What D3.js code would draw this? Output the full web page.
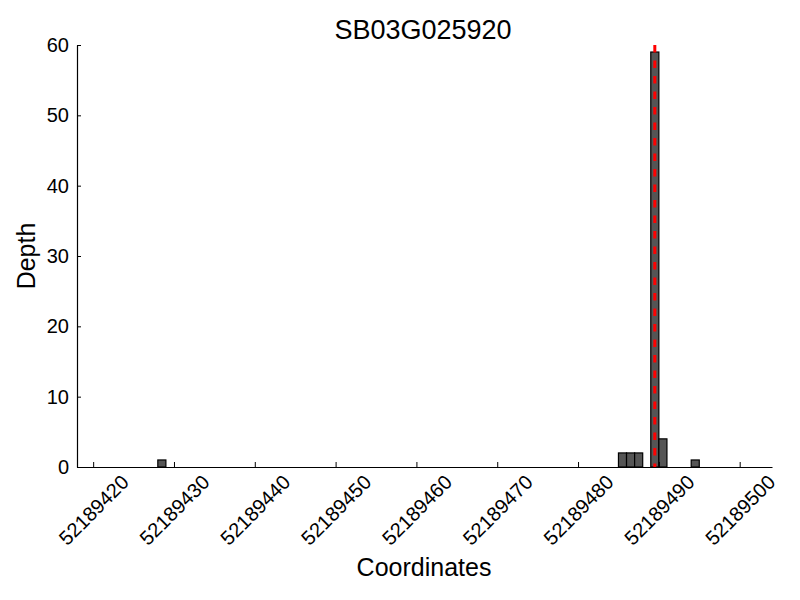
<!DOCTYPE html>
<html>
<head>
<meta charset="utf-8">
<script src="https://cdn.jsdelivr.net/npm/d3@7"></script>
<style>
  body { margin: 0; background: #fff; }
  text { font-family: "Liberation Sans", Arial, sans-serif; fill: #000; }
</style>
</head>
<body>
<svg id="chart" width="800" height="600"></svg>
<script>
var positions = [52189428, 52189485, 52189486, 52189487, 52189489, 52189490, 52189494];
var depths = [1, 2, 2, 2, 59, 4, 1];
var xTicks = [52189420, 52189430, 52189440, 52189450, 52189460, 52189470, 52189480, 52189490, 52189500];
var yTicks = [0, 10, 20, 30, 40, 50, 60];
var markerPos = 52189489.5;

var margin = {left: 77, right: 28, top: 45, bottom: 133};
var width = 800 - margin.left - margin.right,
  height = 600 - margin.top - margin.bottom;

var svg = d3.select("#chart");
var g = svg.append("g").attr("transform", "translate(" + margin.left + "," + margin.top + ")");

var x = d3.scaleLinear().domain([52189418, 52189504]).range([0, width]);
var y = d3.scaleLinear().domain([0, 60]).range([height, 0]);

// bars (left aligned, width 1)
g.selectAll("rect.bar")
  .data(positions)
  .enter().append("rect")
  .attr("class", "bar")
  .attr("x", function(d) { return x(d); })
  .attr("width", function(d) { return x(d + 1) - x(d); })
  .attr("y", function(d, i) { return y(depths[i]); })
  .attr("height", function(d, i) { return y(0) - y(depths[i]); })
  .attr("fill", "#555555")
  .attr("stroke", "#000")
  .attr("stroke-width", 1.2);

// red dashed marker
g.append("line")
  .attr("x1", x(markerPos)).attr("x2", x(markerPos))
  .attr("y1", y(60)).attr("y2", y(0))
  .attr("stroke", "#ff0000")
  .attr("stroke-width", 3)
  .attr("stroke-dasharray", "7.5,8");

// y axis, ticks inward
var yAxis = d3.axisLeft(y).tickValues(yTicks).tickSizeInner(-4).tickSizeOuter(0).tickPadding(8);
var gy = g.append("g").call(yAxis);
gy.selectAll("text").style("font-size", "20px").attr("font-family", "Liberation Sans, Arial, sans-serif");

// x axis, ticks inward, labels rotated
var xAxis = d3.axisBottom(x).tickValues(xTicks).tickFormat(d3.format("d")).tickSizeInner(-5).tickSizeOuter(0);
var gx = g.append("g").attr("transform", "translate(0," + height + ")").call(xAxis);
gx.selectAll("text")
  .style("font-size", "20px")
  .attr("font-family", "Liberation Sans, Arial, sans-serif")
  .attr("text-anchor", "middle")
  .attr("dy", null)
  .attr("dominant-baseline", "central")
  .attr("y", 0)
  .attr("transform", "translate(0,43) rotate(-45)");

svg.selectAll(".domain").attr("stroke", "#000").attr("stroke-width", 1.2);
svg.selectAll(".tick line").attr("stroke", "#000");

// titles
svg.append("text")
  .attr("x", 423).attr("y", 39)
  .attr("text-anchor", "middle")
  .style("font-size", "27px")
  .text("SB03G025920");

svg.append("text")
  .attr("x", 424).attr("y", 576)
  .attr("text-anchor", "middle")
  .style("font-size", "25px")
  .text("Coordinates");

svg.append("text")
  .attr("transform", "translate(35," + (margin.top + height / 2) + ") rotate(-90)")
  .attr("text-anchor", "middle")
  .style("font-size", "25px")
  .text("Depth");
</script>
</body>
</html>
